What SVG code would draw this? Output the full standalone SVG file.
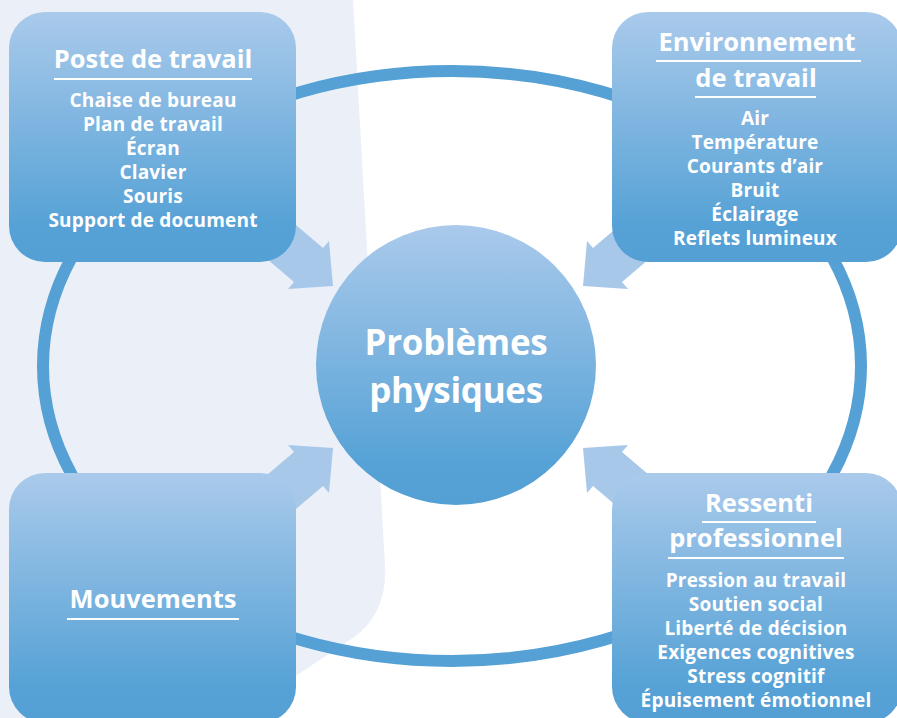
<svg xmlns="http://www.w3.org/2000/svg" width="897" height="718" viewBox="0 0 897 718">
<defs>
<linearGradient id="g" x1="0" y1="0" x2="0" y2="1">
<stop offset="0" stop-color="#AACAEB"/>
<stop offset="0.85" stop-color="#56A2D6"/>
<stop offset="1" stop-color="#54A0D5"/>
</linearGradient>
<style>
.box{fill:url(#g)}
.arr{fill:#A8C8EA}
.t{font-family:"Open Sans","Noto Sans","DejaVu Sans",sans-serif;font-weight:700;fill:#fff;text-anchor:middle}
.h{font-size:25.5px}
.i{font-size:19px;letter-spacing:0.2px}
.c{font-size:35px;letter-spacing:-0.3px}
.ul{fill:#fff}
</style>
</defs>
<rect width="897" height="718" fill="#fff"/>
<path d="M0 0 H353 L385 565 Q388 615 350 640 L232 718 H0 Z" fill="#EBF0F8"/>
<g id="connectors">
<ellipse cx="452" cy="366" rx="409" ry="295" fill="none" stroke="#55A0D4" stroke-width="12"/>
<polygon class="arr" points="263,197 323,248 329,241 333,286 288,289 294,282 234,231"/>
<polygon class="arr" points="653,197 593,248 587,241 583,286 628,289 622,282 682,231"/>
<polygon class="arr" points="263,537 323,486 329,493 333,448 288,445 294,452 234,503"/>
<polygon class="arr" points="653,537 593,486 587,493 583,448 628,445 622,452 682,503"/>
</g>
<g id="center">
<circle cx="456" cy="365" r="140" fill="url(#g)"/>
<text class="t c" x="456" y="355">Problèmes</text>
<text class="t c" x="456" y="403">physiques</text>
</g>
<g id="poste">
<rect class="box" x="9" y="12" width="287" height="250" rx="36"/>
<text class="t h" x="153" y="68">Poste de travail</text>
<rect class="ul" x="54" y="78" width="198" height="2"/>
<text class="t i" x="153" y="107">Chaise de bureau</text>
<text class="t i" x="153" y="131">Plan de travail</text>
<text class="t i" x="153" y="155">Écran</text>
<text class="t i" x="153" y="179">Clavier</text>
<text class="t i" x="153" y="203">Souris</text>
<text class="t i" x="153" y="227">Support de document</text>
</g>
<g id="environnement">
<rect class="box" x="612" y="12" width="290" height="250" rx="36"/>
<text class="t h" x="757" y="51">Environnement</text>
<rect class="ul" x="656" y="60" width="205" height="2"/>
<text class="t h" x="756" y="87">de travail</text>
<rect class="ul" x="695" y="96" width="121" height="2"/>
<text class="t i" x="755" y="125">Air</text>
<text class="t i" x="755" y="149">Température</text>
<text class="t i" x="755" y="173">Courants d’air</text>
<text class="t i" x="755" y="197">Bruit</text>
<text class="t i" x="755" y="221">Éclairage</text>
<text class="t i" x="755" y="245">Reflets lumineux</text>
</g>
<g id="mouvements">
<rect class="box" x="9" y="473" width="287" height="250" rx="36"/>
<text class="t h" x="153" y="608">Mouvements</text>
<rect class="ul" x="67" y="618" width="172" height="2"/>
</g>
<g id="ressenti">
<rect class="box" x="612" y="473" width="290" height="250" rx="36"/>
<text class="t h" x="759" y="512">Ressenti</text>
<rect class="ul" x="702" y="521" width="114" height="2"/>
<text class="t h" x="756" y="547">professionnel</text>
<rect class="ul" x="668" y="557" width="176" height="2"/>
<text class="t i" x="756" y="587">Pression au travail</text>
<text class="t i" x="756" y="611">Soutien social</text>
<text class="t i" x="756" y="635">Liberté de décision</text>
<text class="t i" x="756" y="659">Exigences cognitives</text>
<text class="t i" x="756" y="683">Stress cognitif</text>
<text class="t i" x="756" y="707">Épuisement émotionnel</text>
</g>
</svg>
